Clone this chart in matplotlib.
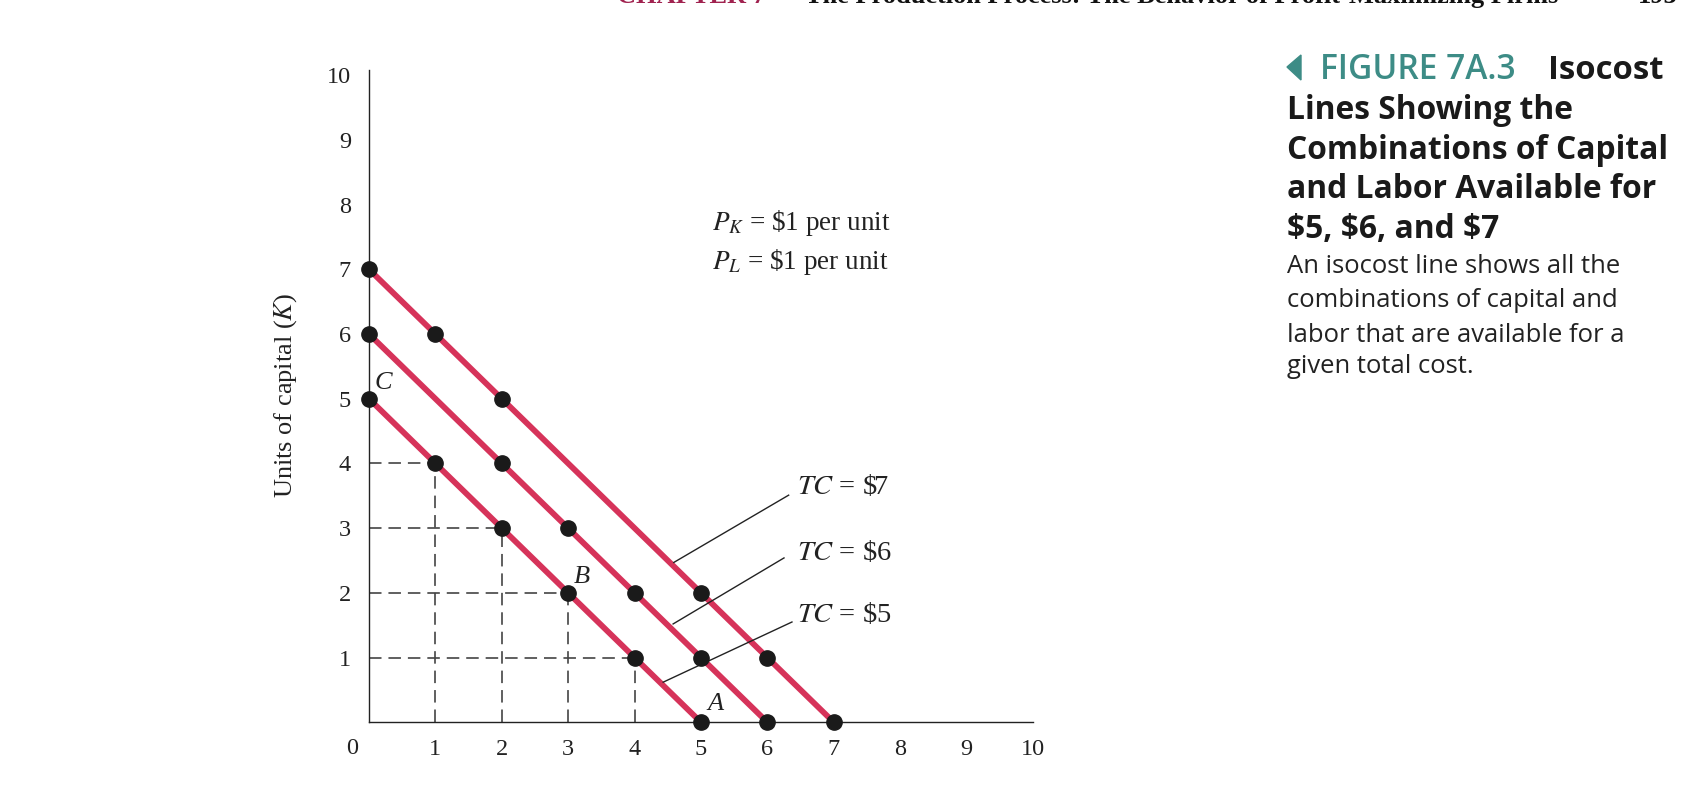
import matplotlib
matplotlib.use("Agg")
import matplotlib.pyplot as plt
from matplotlib.patches import Polygon
from matplotlib.textpath import TextPath
from matplotlib.font_manager import FontProperties

# ---- data ----
costs = [5, 6, 7]
tc5_labor = [0, 1, 2, 3, 4, 5]
tc5_capital = [5, 4, 3, 2, 1, 0]
tc6_labor = [0, 2, 3, 4, 5, 6]
tc6_capital = [6, 4, 3, 2, 1, 0]
tc7_labor = [0, 1, 2, 5, 6, 7]
tc7_capital = [7, 6, 5, 2, 1, 0]
guide_labor = [1, 2, 3, 4]
guide_capital = [4, 3, 2, 1]
xticks = [1, 2, 3, 4, 5, 6, 7, 8, 9, 10]
yticks = [1, 2, 3, 4, 5, 6, 7, 8, 9, 10]
point_labels = ["C", "B", "A"]
point_label_x = [0.22, 3.2, 5.22]
point_label_y = [5.24, 2.25, 0.29]
tc_labels = [r"$TC$ = \$7", r"$TC$ = \$6", r"$TC$ = \$5"]

plt.rcParams["mathtext.fontset"] = "stix"
plt.rcParams["font.family"] = ["Liberation Serif", "DejaVu Serif"]
plt.rcParams["lines.scale_dashes"] = False

W, H = 1705, 785
fig = plt.figure(figsize=(W / 100, H / 100), dpi=100)
x0px, x1px = 369, 1033
y0px, y1px = 722.3, 70
ax = fig.add_axes([x0px / W, (H - y0px) / H, (x1px - x0px) / W, (y0px - y1px) / H])
ax.set_xlim(0, 9.93)
ax.set_ylim(0, 10.08)
for s in ["top", "right"]:
    ax.spines[s].set_visible(False)
for s in ["left", "bottom"]:
    ax.spines[s].set_linewidth(1.0)
    ax.spines[s].set_color("#222222")
ax.set_xticks(xticks)
ax.set_yticks(yticks)
ax.set_xticklabels([str(v) for v in xticks])
ax.set_yticklabels([str(v) for v in yticks])
ax.tick_params(axis="both", length=0, labelsize=17.5, colors="#222222")
ax.tick_params(axis="x", pad=12)
ax.tick_params(axis="y", pad=13)
ax.text(-0.25, -0.4, "0", fontsize=17.5, color="#222222", ha="center", va="center", clip_on=False)

# dashed guides
for lx, ky in zip(guide_labor, guide_capital):
    ax.plot([0, lx], [ky, ky], color="#444444", lw=1.2, dashes=(9, 5), zorder=1, clip_on=False)
    ax.plot([lx, lx], [0, ky], color="#444444", lw=1.2, dashes=(9, 5), zorder=1, clip_on=False)

red = "#d6335a"
for c in costs:
    ax.plot([0, c], [c, 0], color=red, lw=4.2, solid_capstyle="butt", zorder=2, clip_on=False)

for lx, ky in [(tc5_labor, tc5_capital), (tc6_labor, tc6_capital), (tc7_labor, tc7_capital)]:
    ax.plot(lx, ky, "o", color="#1a1a1a", ms=11, zorder=3, clip_on=False)

for t, px, py in zip(point_labels, point_label_x, point_label_y):
    ax.text(px, py, t, fontsize=19, style="italic", ha="center", va="center", color="#222222")

# leader lines and TC labels
lead_start_x = [4.59, 4.58, 4.43]
lead_start_y = [2.47, 1.52, 0.62]
lead_end_x = [6.32, 6.25, 6.37]
lead_end_y = [3.51, 2.54, 1.55]
label_y = [3.64, 2.61, 1.66]
for sx, sy, ex, ey, lab, ly in zip(lead_start_x, lead_start_y, lead_end_x, lead_end_y, tc_labels, label_y):
    ax.plot([sx, ex], [sy, ey], color="#222222", lw=1.0, zorder=2)
    ax.text(6.44, ly, lab, fontsize=20.5, ha="left", va="center", color="#222222")

ax.text(5.16, 7.71, r"$P_K$ = \$1 per unit", fontsize=19.5, ha="left", va="center", color="#222222")
ax.text(5.16, 7.12, r"$P_L$ = \$1 per unit", fontsize=19.5, ha="left", va="center", color="#222222")

fig.text(285.5 / W, 1 - 395 / H, r"Units of capital ($K$)", rotation=90, fontsize=19,
         ha="center", va="center", color="#222222")

# header (cut off at top, as in the page scan)
hy = 1 - 3 / H
fig.text(617 / W, hy, "CHAPTER 7", fontsize=19, weight="bold", color="#a0224f", va="baseline")
fig.text(805 / W, hy, "The Production Process: The Behavior of Profit-Maximizing Firms",
         fontsize=19, weight="bold", color="#111111", va="baseline")
fig.text(1678 / W, hy, "193", fontsize=19, weight="bold", color="#111111", va="baseline", ha="right")

# caption
teal = "#3d8c86"
cap_family = "Open Sans"


def fit_size(lines, widths_px, weight):
    # font size (pt) so that lines have the target pixel widths on average
    fp = FontProperties(family=cap_family, weight=weight, size=10)
    ratios = []
    for t, w in zip(lines, widths_px):
        tp = TextPath((0, 0), t, prop=fp)
        ext = tp.get_extents()
        wpx = ext.width * 100 / 72
        ratios.append(w / wpx)
    return 10 * sum(ratios) / len(ratios)


tri = Polygon([[1287 / W, 1 - 67 / H], [1301 / W, 1 - 55 / H], [1301 / W, 1 - 80 / H]],
              closed=True, transform=fig.transFigure, color=teal)
fig.patches.append(tri)

title_lines = ["Lines Showing the", "Combinations of Capital", "and Labor Available for",
               "$5, $6, and $7"]
title_w = [276, 377, 358, 220]
ts = fit_size(title_lines, title_w, "bold")
fs_fig = fit_size(["FIGURE 7A.3"], [191], "semibold")
fs_iso = fit_size(["Isocost"], [111], "bold")
fig.text(1320 / W, 1 - 79 / H, "FIGURE 7A.3", fontsize=fs_fig, weight="semibold", color=teal,
         family=cap_family, va="baseline")
fig.text(1548 / W, 1 - 79 / H, "Isocost", fontsize=fs_iso, weight="bold", color="#1a1a1a",
         family=cap_family, va="baseline")
for i, t in enumerate(title_lines):
    fig.text(1287 / W, 1 - (119 + 39.7 * i) / H, t.replace("$", r"\$"), fontsize=ts, weight="bold",
             color="#1a1a1a", family=cap_family, va="baseline")
body_lines = ["An isocost line shows all the", "combinations of capital and",
              "labor that are available for a", "given total cost."]
body_w = [328, 332, 332, 185]
bs = fit_size(body_lines, body_w, "normal")
body_y = [273, 307, 342, 373]
for t, by in zip(body_lines, body_y):
    fig.text(1287 / W, 1 - by / H, t, fontsize=bs, color="#222222", family=cap_family, va="baseline")

fig.savefig("out.png", dpi=100)
